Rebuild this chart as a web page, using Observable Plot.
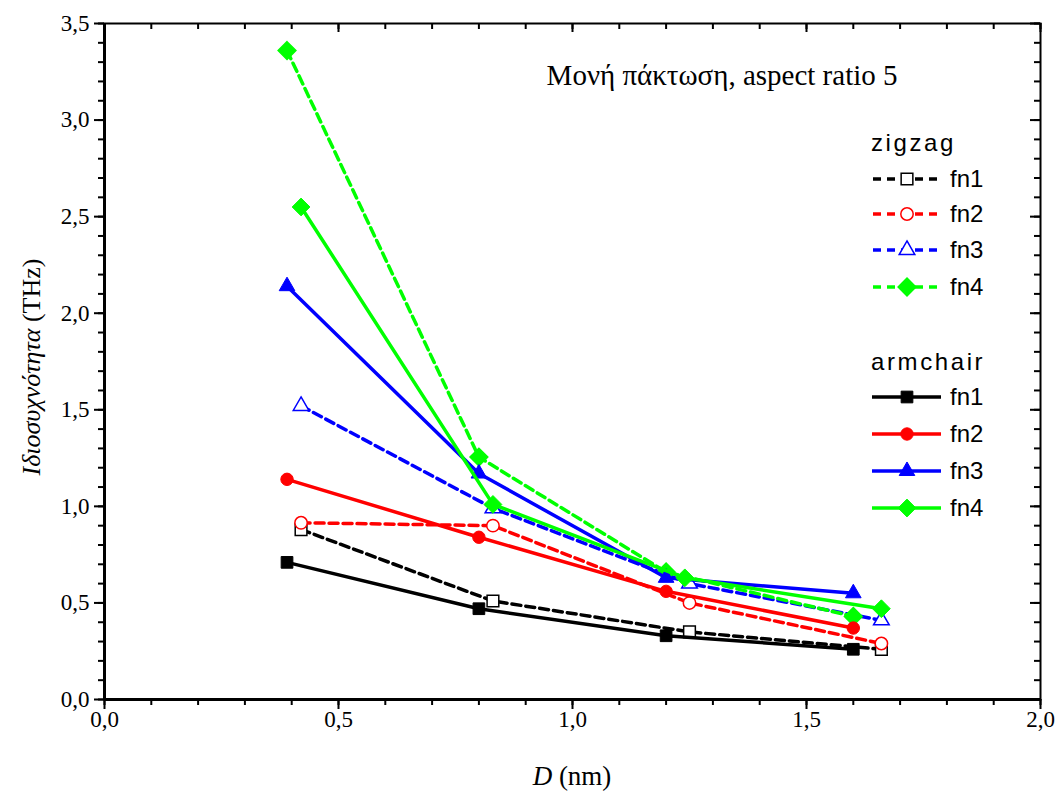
<!DOCTYPE html>
<html>
<head>
<meta charset="utf-8">
<script src="https://cdn.jsdelivr.net/npm/d3@7"></script>
<script src="https://cdn.jsdelivr.net/npm/@observablehq/plot@0.6"></script>
<style>
  body { margin: 0; background: #fff; }
  #chart { width: 1055px; height: 794px; }
</style>
</head>
<body>
<div id="chart"></div>
<script>
// ---- data ----
const zigzagX = [0.42, 0.83, 1.25, 1.66];
const zigzagFn1 = [0.88, 0.51, 0.35, 0.26];
const zigzagFn2 = [0.915, 0.90, 0.50, 0.29];
const zigzagFn3 = [1.52, 0.99, 0.60, 0.41];
const zigzagFn4X = [0.39, 0.80, 1.20, 1.60];
const zigzagFn4 = [3.36, 1.255, 0.66, 0.43];

const armchairX = [0.39, 0.80, 1.20, 1.60];
const armchairFn1 = [0.71, 0.47, 0.33, 0.26];
const armchairFn2 = [1.14, 0.84, 0.56, 0.37];
const armchairFn3 = [2.14, 1.17, 0.63, 0.55];
const armchairFn4X = [0.42, 0.83, 1.24, 1.66];
const armchairFn4 = [2.55, 1.01, 0.63, 0.47];

const seriesNames = ["fn1", "fn2", "fn3", "fn4"];
const seriesColors = ["#000000", "#ff0000", "#0000ff", "#00ff00"];
const seriesSymbols = ["square", "circle", "triangle", "diamond2"];
const seriesR = [6.6, 6.2, 5.8, 8.0];

const xMajorTicks = [0, 0.5, 1.0, 1.5, 2.0];
const yMajorTicks = [0, 0.5, 1.0, 1.5, 2.0, 2.5, 3.0, 3.5];
const xMinorTicks = d3.range(0, 21).map(i => i / 10);
const yMinorTicks = d3.range(0, 36).map(i => i / 10);

const annotation = "Μονή πάκτωση, aspect ratio 5";
const yLabelItalic = "Ιδιοσυχνότητα";
const yLabelRest = " (THz)";
const xLabelItalic = "D";
const xLabelRest = " (nm)";
const groupTitles = ["zigzag", "armchair"];

// ---- build tidy tables ----
function build(group, list) {
  const rows = [];
  list.forEach(([name, xv, yv], k) => {
    yv.forEach((v, i) => rows.push({group, series: name, idx: k, x: xv[i], y: v}));
  });
  return rows;
}
const zigzag = build("zigzag", [
  ["fn1", zigzagX, zigzagFn1], ["fn2", zigzagX, zigzagFn2],
  ["fn3", zigzagX, zigzagFn3], ["fn4", zigzagFn4X, zigzagFn4]
]);
const armchair = build("armchair", [
  ["fn1", armchairX, armchairFn1], ["fn2", armchairX, armchairFn2],
  ["fn3", armchairX, armchairFn3], ["fn4", armchairFn4X, armchairFn4]
]);

const W = 1055, H = 794;
const mL = 104, mR = 15, mT = 23, mB = 95;
const frameW = W - mL - mR, frameH = H - mT - mB;
const fmt = d => d.toFixed(1).replace(".", ",");
const serif = "Liberation Serif, Times New Roman, serif";

const marks = [];
// axes (ticks only; labels drawn with text marks below)
marks.push(Plot.axisX(xMinorTicks, {tickSize: 6, tickFormat: () => "", strokeWidth: 2, label: null}));
marks.push(Plot.axisX(xMajorTicks, {tickSize: 10, tickFormat: () => "", strokeWidth: 2, label: null}));
marks.push(Plot.axisY(yMinorTicks, {tickSize: 6, tickFormat: () => "", strokeWidth: 2, label: null}));
marks.push(Plot.axisY(yMajorTicks, {tickSize: 10, tickFormat: () => "", strokeWidth: 2, label: null}));
marks.push(Plot.text(xMajorTicks, {x: d => d, text: fmt, frameAnchor: "bottom", lineAnchor: "top",
  dy: 11, fontSize: 23, fontFamily: serif, fill: "#000"}));
marks.push(Plot.text(yMajorTicks, {y: d => d, text: fmt, frameAnchor: "left", textAnchor: "end",
  lineAnchor: "middle", dx: -15, fontSize: 23, fontFamily: serif, fill: "#000"}));
// mirrored inward ticks on top and right
marks.push(Plot.tickX(xMinorTicks, {x: d => d, insetBottom: frameH - 6, strokeWidth: 2}));
marks.push(Plot.tickX(xMajorTicks, {x: d => d, insetBottom: frameH - 9, strokeWidth: 2}));
marks.push(Plot.tickY(yMinorTicks, {y: d => d, insetLeft: frameW - 6, strokeWidth: 2}));
marks.push(Plot.tickY(yMajorTicks, {y: d => d, insetLeft: frameW - 10, strokeWidth: 2}));
marks.push(Plot.frame({stroke: "#000", strokeWidth: 2}));
marks.push(Plot.ruleX([0], {stroke: "#000", strokeWidth: 3}));
marks.push(Plot.ruleY([0], {stroke: "#000", strokeWidth: 3}));

// series
for (let k = 0; k < 4; k++) {
  const zd = zigzag.filter(d => d.idx === k);
  marks.push(Plot.line(zd, {x: "x", y: "y", stroke: seriesColors[k], strokeWidth: 3.5, strokeDasharray: "9,5"}));
  marks.push(Plot.dot(zd, {x: "x", y: "y", symbol: seriesSymbols[k], r: seriesR[k],
    fill: k === 3 ? seriesColors[k] : "#fff", stroke: seriesColors[k], strokeWidth: 1.5}));
}
for (let k = 0; k < 4; k++) {
  const ad = armchair.filter(d => d.idx === k);
  marks.push(Plot.line(ad, {x: "x", y: "y", stroke: seriesColors[k], strokeWidth: 3.5}));
  marks.push(Plot.dot(ad, {x: "x", y: "y", symbol: seriesSymbols[k], r: seriesR[k],
    fill: seriesColors[k], stroke: seriesColors[k], strokeWidth: 1}));
}
// annotation
marks.push(Plot.text([annotation], {text: d => d, frameAnchor: "top-right", dx: -143, dy: 52,
  lineAnchor: "middle", fontSize: 29, fontFamily: serif, fill: "#000", textAnchor: "end"}));

const chart = Plot.plot({
  width: W, height: H,
  marginLeft: mL, marginRight: mR, marginTop: mT, marginBottom: mB,
  x: {domain: [0, 2], label: null},
  y: {domain: [0, 3.5], label: null},
  style: {background: "#fff", color: "#000"},
  marks
});
document.getElementById("chart").appendChild(chart);

const svg = d3.select(chart);

// ---- axis titles & legend overlay ----
const yl = svg.append("text")
  .attr("transform", `translate(40, ${mT + frameH / 2 + 6}) rotate(-90)`)
  .attr("text-anchor", "middle")
  .attr("font-family", serif).attr("font-size", 26).attr("fill", "#000");
yl.append("tspan").attr("font-style", "italic").text(yLabelItalic);
yl.append("tspan").text(yLabelRest);

const xl = svg.append("text")
  .attr("x", mL + frameW / 2).attr("y", 785)
  .attr("text-anchor", "middle")
  .attr("font-family", serif).attr("font-size", 27).attr("fill", "#000");
xl.append("tspan").attr("font-style", "italic").text(xLabelItalic);
xl.append("tspan").text(xLabelRest);

const legend = svg.append("g").attr("font-family", "Liberation Sans, Arial, sans-serif")
  .attr("font-size", 24).attr("fill", "#000").attr("text-anchor", "start");
const groups = [
  {title: groupTitles[0], titleY: 151, rows: [179, 214, 250, 287], dashed: true},
  {title: groupTitles[1], titleY: 370, rows: [397, 434, 471, 508], dashed: false}
];
groups.forEach(g => {
  legend.append("text").attr("x", 871).attr("y", g.titleY).attr("fill", "#000")
    .attr("text-anchor", "start").attr("letter-spacing", 2.6).text(g.title);
  g.rows.forEach((ry, k) => {
    const ln = legend.append("line").attr("x1", 872).attr("x2", 941).attr("y1", ry).attr("y2", ry)
      .attr("stroke", seriesColors[k]).attr("stroke-width", 3.5);
    if (g.dashed) ln.attr("stroke-dasharray", "8,6").attr("stroke-dashoffset", -1);
    const size = seriesR[k] * seriesR[k] * Math.PI;
    const symType = {square: d3.symbolSquare, circle: d3.symbolCircle, triangle: d3.symbolTriangle, diamond2: d3.symbolDiamond2}[seriesSymbols[k]];
    legend.append("path").attr("transform", `translate(907, ${ry})`)
      .attr("d", d3.symbol(symType, size)())
      .attr("fill", (g.dashed && k !== 3) ? "#fff" : seriesColors[k])
      .attr("stroke", seriesColors[k]).attr("stroke-width", g.dashed ? 1.5 : 1);
    legend.append("text").attr("x", 950).attr("y", ry + 8).attr("fill", "#000")
      .attr("text-anchor", "start").text(seriesNames[k]);
  });
});
</script>
</body>
</html>
